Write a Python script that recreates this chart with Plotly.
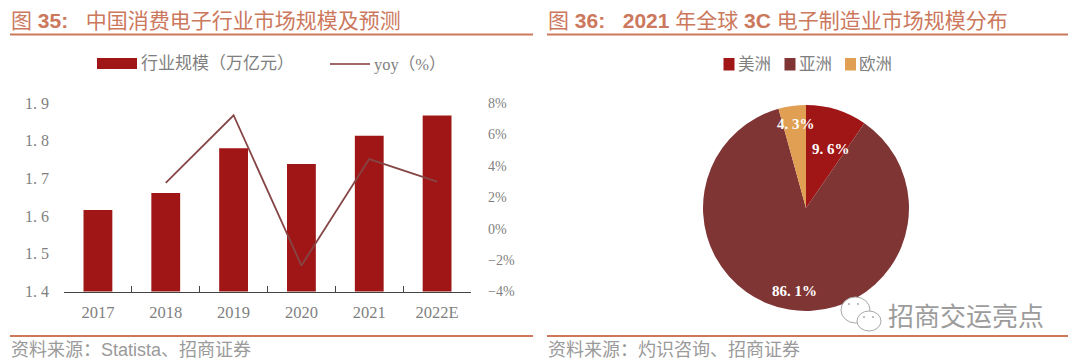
import plotly.graph_objects as go

W, H = 1080, 364
years = ["2017", "2018", "2019", "2020", "2021", "2022E"]
scale_values = [1.616, 1.661, 1.78, 1.738, 1.813, 1.867]
yoy_values = [None, 2.92, 7.22, -2.35, 4.43, 3.0]
left_tick_vals = [1.4, 1.5, 1.6, 1.7, 1.8, 1.9]
left_tick_text = ["1. 4", "1. 5", "1. 6", "1. 7", "1. 8", "1. 9"]
right_tick_vals = [-4, -2, 0, 2, 4, 6, 8]
right_tick_text = ["−4%", "−2%", "0%", "2%", "4%", "6%", "8%"]
regions = ["美洲", "亚洲", "欧洲"]
shares = [9.6, 86.1, 4.3]
share_text = ["9. 6%", "86. 1%", "4. 3%"]

RED, BROWN, ORANGE = "#A01616", "#803535", "#E09F52"
RULE = "#CC785C"
GRAY = "#7F7F7F"
SERIF = "Liberation Serif, Noto Sans CJK SC"
SANS = "Liberation Sans, Noto Sans CJK SC"
LP, RP = "\uff08", "\uff09"
COLON = "\uff1a"
NB = "\u00a0"


def px(x):
    return x / W


def py(y):
    return 1 - y / H


fig = go.Figure()
fig.add_trace(go.Bar(x=years, y=scale_values, name="行业规模" + LP + "万亿元" + RP,
                     marker=dict(color=RED, line=dict(width=0)), showlegend=False))
fig.add_trace(go.Scatter(x=years, y=yoy_values, name="yoy" + LP + "%" + RP, mode="lines", yaxis="y2",
                         line=dict(color="#864545", width=1.8), connectgaps=False, showlegend=False))
fig.add_trace(go.Pie(labels=regions, values=shares, textinfo="none", sort=False,
                     direction="clockwise", rotation=0, hole=0,
                     marker=dict(colors=[RED, BROWN, ORANGE], line=dict(width=0)),
                     domain=dict(x=[px(696), px(916)], y=[py(311), py(105)]), showlegend=False))

shapes = []
annots = []


def rect(x0, y0, x1, y1, color):
    shapes.append(dict(type="rect", xref="paper", yref="paper", x0=px(x0), x1=px(x1), y0=py(y0), y1=py(y1),
                       fillcolor=color, line=dict(width=0), layer="above"))


def text(x, y, s, size, color, family=SERIF, anchor="left"):
    annots.append(dict(xref="paper", yref="paper", x=px(x), y=py(y), text=s, showarrow=False, xanchor=anchor,
                       yanchor="middle", font=dict(family=family, size=size, color=color), borderpad=0, borderwidth=0))


# section rules
rect(10, 33.5, 533, 35.5, RULE)
rect(547, 33.5, 1068, 35.5, RULE)
rect(10, 335, 533, 337, RULE)
rect(547, 335, 1068, 337, RULE)

# headings and sources
text(11, 20, "图 <b>35:</b>" + NB * 3 + "中国消费电子行业市场规模及预测", 21, RULE, SANS)
text(548, 20, "图 <b>36:</b>" + NB * 3 + "<b>2021</b> 年全球 <b>3C</b> 电子制造业市场规模分布", 21, RULE, SANS)
text(11, 350, "资料来源" + COLON + "Statista、招商证券", 18, "#9A9A9A", SANS)
text(548, 350, "资料来源" + COLON + "灼识咨询、招商证券", 18, "#9A9A9A", SANS)

# left legend
rect(97, 58, 137, 69, RED)
text(141, 63, "行业规模" + LP + "万亿元" + RP, 17, GRAY, SERIF)
shapes.append(dict(type="line", xref="paper", yref="paper", x0=px(330), x1=px(370), y0=py(64), y1=py(64),
                   line=dict(color=BROWN, width=1.6)))
text(374, 64, "yoy" + LP + "%" + RP, 16.5, GRAY, SERIF)

# right legend
rect(723.5, 58, 734.5, 70.5, RED)
text(738, 64, "美洲", 16.5, GRAY, SERIF)
rect(784.5, 58, 795.5, 70.5, BROWN)
text(799, 64, "亚洲", 16.5, GRAY, SERIF)
rect(845, 58, 856, 70.5, ORANGE)
text(859, 64, "欧洲", 16.5, GRAY, SERIF)

# pie labels
for label, (lx, ly) in zip(share_text, [(831, 149), (794, 291), (796, 124)]):
    text(lx, ly, "<b>" + label + "</b>", 15, "#FFFFFF", SERIF, "center")

# watermark
for (x0, y0, x1, y1) in [(841, 297, 870, 323), (857, 311, 881, 331)]:
    shapes.append(dict(type="circle", xref="paper", yref="paper", x0=px(x0), x1=px(x1), y0=py(y0), y1=py(y1),
                       fillcolor="#FFFFFF", line=dict(color="#A8A8A8", width=1), layer="above"))
for (cx, cy) in [(849, 304), (858, 304), (864, 317), (873, 317)]:
    shapes.append(dict(type="circle", xref="paper", yref="paper", x0=px(cx - 1), x1=px(cx + 1), y0=py(cy - 1), y1=py(cy + 1),
                       fillcolor="#A8A8A8", line=dict(width=0), layer="above"))
text(888, 317, "招商交运亮点", 26, "#9C9C9C", SANS)

fig.update_layout(
    width=W, height=H, autosize=False, margin=dict(l=0, r=0, t=0, b=0, autoexpand=False),
    paper_bgcolor="#FFFFFF", plot_bgcolor="#FFFFFF", bargap=0.575, showlegend=False,
    xaxis=dict(domain=[px(64), px(471)], type="category", tickson="boundaries", ticks="inside", ticklen=6,
               tickcolor="#444444", tickwidth=1, showline=True, linecolor="#444444", linewidth=1, showgrid=False,
               tickfont=dict(family=SERIF, size=16.5, color=GRAY), ticklabelstandoff=6),
    yaxis=dict(domain=[py(291.5), py(103)], range=[1.4, 1.9], tickmode="array", tickvals=left_tick_vals,
               ticktext=left_tick_text, showgrid=False, zeroline=False, showline=False, ticks="",
               tickfont=dict(family=SERIF, size=16, color=GRAY), ticklabelstandoff=14),
    yaxis2=dict(domain=[py(291.5), py(103)], overlaying="y", side="right", range=[-4, 8], tickmode="array",
                tickvals=right_tick_vals, ticktext=right_tick_text, showgrid=False, zeroline=False,
                showline=False, ticks="", anchor="x",
                tickfont=dict(family=SERIF, size=14, color=GRAY), ticklabelstandoff=16),
    shapes=shapes, annotations=annots,
)
fig.write_html("out.html", config=dict(displayModeBar=False),
               post_script="document.body.style.margin='0';")
